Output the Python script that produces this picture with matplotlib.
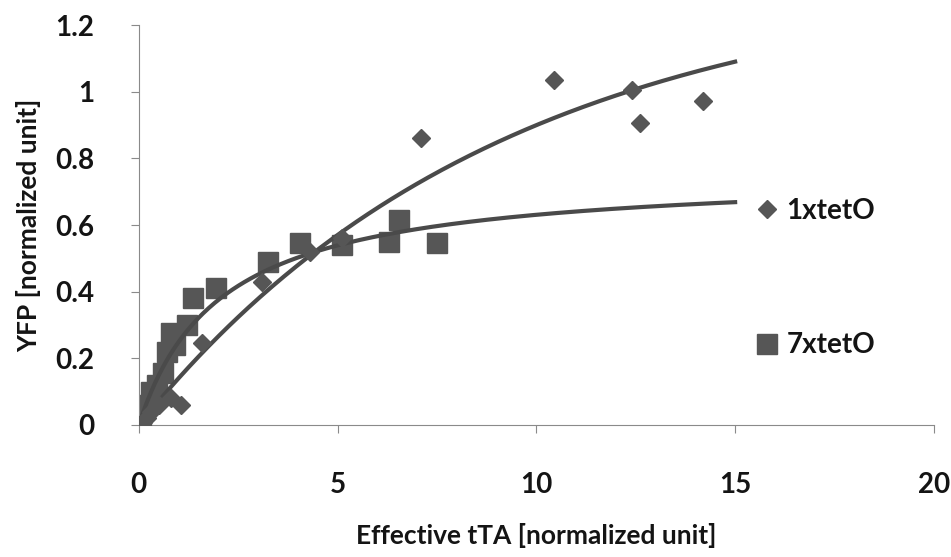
import numpy as np
import matplotlib.pyplot as plt

# Measured points, 1xtetO (diamonds)
x_1x = [0.0, 0.1, 0.2, 0.3, 0.5, 0.8, 1.05, 1.6, 3.1, 4.3, 5.1, 7.1, 10.45, 12.4, 12.6, 14.2]
y_1x = [0.0, 0.01, 0.02, 0.04, 0.06, 0.08, 0.06, 0.245, 0.43, 0.52, 0.56, 0.86, 1.035, 1.005, 0.905, 0.972]

# Measured points, 7xtetO (squares)
x_7x = [0.0, 0.05, 0.15, 0.3, 0.45, 0.6, 0.7, 0.9, 0.8, 1.2, 1.35, 1.95, 3.25, 4.05, 5.1, 6.3, 6.55, 7.5]
y_7x = [0.0, 0.03, 0.06, 0.10, 0.12, 0.155, 0.22, 0.24, 0.275, 0.30, 0.38, 0.41, 0.49, 0.545, 0.54, 0.55, 0.615, 0.545]

# Fit parameters
fit_1x_amp, fit_1x_tau = 1.351, 9.12      # y = A * (1 - exp(-x / tau))
fit_7x_vmax, fit_7x_k = 0.76, 2.05        # y = Vmax * x / (K + x)
fit_xmax = 15

x_ticks = [0, 5, 10, 15, 20]
y_ticks = [0, 0.2, 0.4, 0.6, 0.8, 1.0, 1.2]
y_tick_labels = ['0', '0.2', '0.4', '0.6', '0.8', '1', '1.2']

plt.rcParams['font.family'] = ['Lato', 'DejaVu Sans']

mark_color = '#565656'
line_color = '#4a4a4a'
text_color = '#141414'

fig = plt.figure(figsize=(9.51, 5.57), dpi=100)
ax = fig.add_axes([0.146, 0.237, 0.836, 0.718])

# Fit curves
xf = np.linspace(0, fit_xmax, 300)
ax.plot(xf, fit_1x_amp * (1 - np.exp(-xf / fit_1x_tau)), color=line_color, lw=3, zorder=3)
ax.plot(xf, fit_7x_vmax * xf / (fit_7x_k + xf), color=line_color, lw=3, zorder=3)

# Data
ax.plot(x_1x, y_1x, 'D', ms=9, color=mark_color, mec=mark_color, label='1xtetO', zorder=4)
ax.plot(x_7x, y_7x, 's', ms=15, color=mark_color, mec=mark_color, label='7xtetO', zorder=2)

ax.set_xlim(0, 20)
ax.set_ylim(0, 1.2)
ax.set_xticks(x_ticks)
ax.set_yticks(y_ticks)
ax.set_yticklabels(y_tick_labels)

for side in ['top', 'right']:
    ax.spines[side].set_visible(False)
for side in ['left', 'bottom']:
    ax.spines[side].set_color('#8a8a8a')
    ax.spines[side].set_linewidth(0.8)
ax.spines['bottom'].set_zorder(1)

ax.tick_params(axis='both', direction='out', length=6, width=0.8, color='#8a8a8a',
               labelsize=20, labelcolor=text_color)
ax.tick_params(axis='x', pad=28)
ax.tick_params(axis='y', pad=26)
for lab in ax.get_xticklabels() + ax.get_yticklabels():
    lab.set_fontweight('bold')

ax.set_xlabel('Effective tTA [normalized unit]', fontsize=19, fontweight='bold',
              color=text_color, labelpad=18)
ax.set_ylabel('YFP [normalized unit]', fontsize=19, fontweight='bold',
              color=text_color, labelpad=10)

ax.legend(loc='center left', bbox_to_anchor=(0.776, 0.367), frameon=False,
          prop={'size': 20, 'weight': 'bold'}, labelcolor=text_color,
          labelspacing=3.9, handlelength=0.8, handletextpad=0.3,
          borderpad=0, borderaxespad=0, markerscale=1.0)

fig.savefig('out.png', dpi=100)
